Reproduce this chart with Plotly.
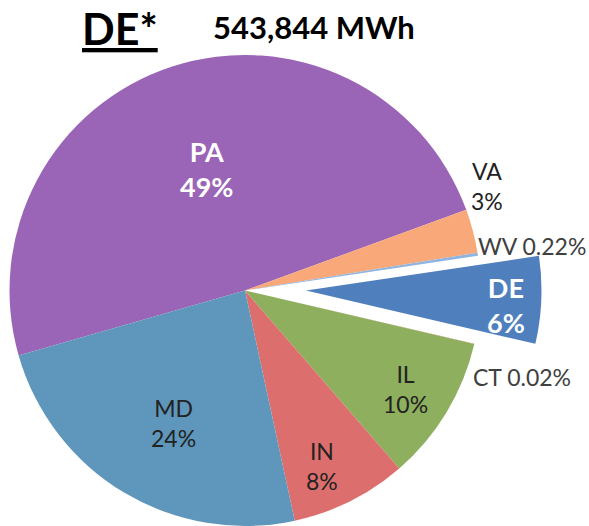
import plotly.graph_objects as go

# ---- data ----
states = ["PA", "VA", "WV", "DE", "CT", "IL", "IN", "MD"]
shares = [49, 3, 0.22, 6, 0.02, 10, 8, 24]
share_labels = ["49%", "3%", "0.22%", "6%", "0.02%", "10%", "8%", "24%"]
title_text = "DE*"
total_text = "543,844 MWh"

colors = {
    "PA": "#9B65B7", "VA": "#F8A879", "WV": "#8FB4E0", "DE": "#4F80BD",
    "CT": "#C0504D", "IL": "#8EAF5E", "IN": "#DC6F6D", "MD": "#5E97BB",
}
exploded = "DE"

W, H = 589, 526
FONT = "Lato, 'Open Sans', sans-serif"

# main pie geometry (px)
top_px = 55
r_px = (H - top_px) / 2
cx_px = 245
dx_px = 61  # explosion offset of DE slice

def xdom(cx):
    return [(cx - r_px) / W, (cx + r_px) / W]

ydom = [0, 1 - top_px / H]

main_colors = [("rgba(0,0,0,0)" if s == exploded else colors[s]) for s in states]
exp_colors = [(colors[s] if s == exploded else "rgba(0,0,0,0)") for s in states]

fig = go.Figure()
fig.add_trace(go.Pie(
    labels=states, values=shares, sort=False, direction="clockwise",
    rotation=254, marker=dict(colors=main_colors, line=dict(width=0)),
    textinfo="none", hoverinfo="label+percent", showlegend=False,
    domain=dict(x=xdom(cx_px), y=ydom),
))
fig.add_trace(go.Pie(
    labels=states, values=shares, sort=False, direction="clockwise",
    rotation=254, marker=dict(colors=exp_colors, line=dict(width=0)),
    textinfo="none", hoverinfo="skip", showlegend=False,
    domain=dict(x=xdom(cx_px + dx_px), y=ydom),
))

# label placement (pixel positions of label centers)
label_pos = {
    "PA": (206, 169, "two"), "VA": (487, 186, "two"), "WV": (532, 246, "one"),
    "DE": (506, 305, "two"), "CT": (522, 377, "one"), "IL": (405, 389, "two"),
    "IN": (322, 466, "two"), "MD": (173, 423, "two"),
}
bold_white = {"PA", "DE"}

anns = []
for s, p in zip(states, share_labels):
    x, y, mode = label_pos[s]
    if mode == "two":
        txt = f"{s}<br>{p}"
    else:
        txt = f"{s} {p}"
    if s in bold_white:
        txt = f"<b>{txt}</b>"
        font = dict(family=FONT, size=27, color="white")
    else:
        font = dict(family=FONT, size=23, color="#222222" if mode == "two" else "#404040")
    anns.append(dict(
        x=x / W, y=1 - y / H, xref="paper", yref="paper", text=txt,
        showarrow=False, font=font, align="center", xanchor="center", yanchor="middle",
    ))

anns.append(dict(x=120 / W, y=1 - 28 / H, xref="paper", yref="paper",
                 text=f"<b><u>{title_text}</u></b>", showarrow=False,
                 font=dict(family=FONT, size=43, color="black"),
                 xanchor="center", yanchor="middle"))
anns.append(dict(x=314 / W, y=1 - 27 / H, xref="paper", yref="paper",
                 text=f"<b>{total_text}</b>", showarrow=False,
                 font=dict(family=FONT, size=31, color="black"),
                 xanchor="center", yanchor="middle"))

fig.update_layout(
    width=W, height=H, margin=dict(l=0, r=0, t=0, b=0),
    paper_bgcolor="white", plot_bgcolor="white",
    annotations=anns,
)
fig.write_html(
    "out.html",
    config={"displayModeBar": False},
    post_script="document.body.style.margin='0';document.body.style.overflow='hidden';",
)
